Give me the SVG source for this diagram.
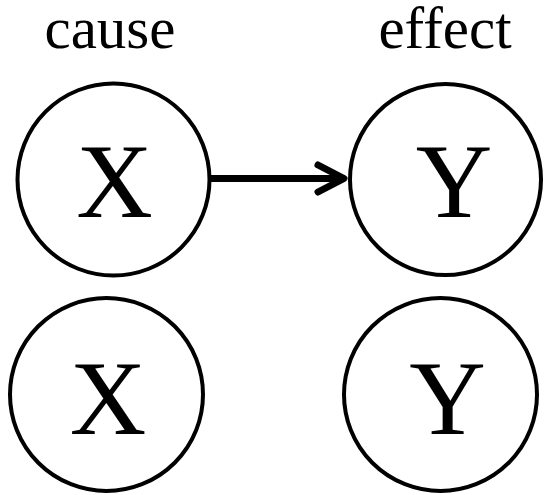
<svg xmlns="http://www.w3.org/2000/svg" width="544" height="495" viewBox="0 0 544 495">
<style>
.node circle{fill:#fff;stroke:#000;stroke-width:4}
.edge{fill:none;stroke:#000;stroke-width:7;stroke-linecap:round;stroke-linejoin:round}
</style>
<rect width="544" height="495" fill="#fff"/>
<g id="labels">
<text x="110" y="48" text-anchor="middle" style="font-family:'Liberation Serif';font-style:normal;font-size:59px">cause</text>
<text x="445" y="48" text-anchor="middle" style="font-family:'Liberation Serif';font-style:normal;font-size:59px">effect</text>
</g>
<g id="connectors">
<path class="edge" d="M211 178.5 H344" style="stroke-linecap:butt"/>
<path class="edge" d="M318 165 L344 178.5 L318 192"/>
</g>
<g id="x1" class="node">
<circle cx="113.5" cy="179.5" r="96"/>
<text x="114.5" y="217" text-anchor="middle" style="font-family:'Liberation Serif';font-style:normal;font-size:106px">X</text>
</g>
<g id="y1" class="node">
<circle cx="445.5" cy="179.5" r="95.5"/>
<text x="454" y="217" text-anchor="middle" style="font-family:'Liberation Serif';font-style:normal;font-size:106px">Y</text>
</g>
<g id="x2" class="node">
<circle cx="106.5" cy="394.5" r="96.5"/>
<text x="108" y="434" text-anchor="middle" style="font-family:'Liberation Serif';font-style:normal;font-size:106px">X</text>
</g>
<g id="y2" class="node">
<circle cx="440.5" cy="394.5" r="96.5"/>
<text x="447.5" y="434" text-anchor="middle" style="font-family:'Liberation Serif';font-style:normal;font-size:106px">Y</text>
</g>
</svg>
